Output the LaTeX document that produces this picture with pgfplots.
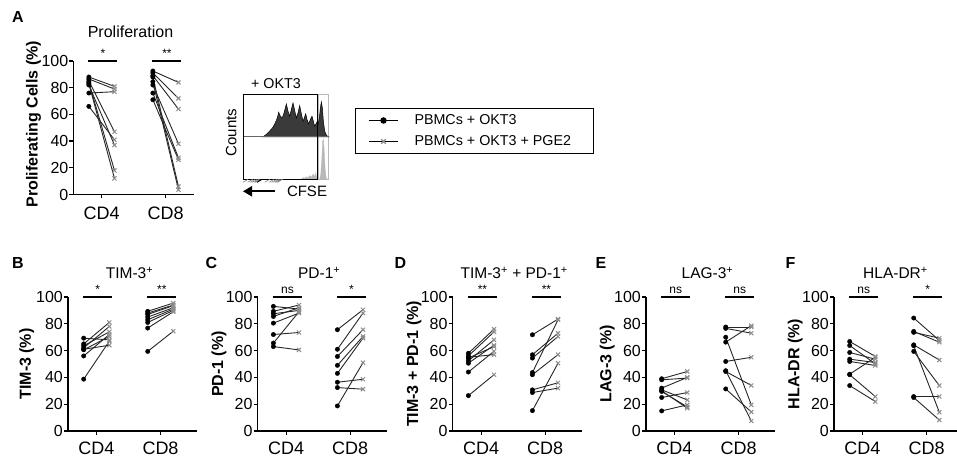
\documentclass[border=0pt]{standalone}
\usepackage{fontspec}
\setmainfont{Liberation Sans}
\usepackage{pgfplots}
\pgfplotsset{compat=1.18}
\usepackage{pgfplotstable}
\usetikzlibrary{arrows.meta}

\definecolor{xgray}{HTML}{8C8C8C}
\definecolor{histdark}{HTML}{3A3A3A}
\definecolor{histlight}{HTML}{B8B8B8}

% columns: CD4 without/with PGE2, CD8 without/with PGE2
\pgfplotstableread{
d4 c4 d8 c8
88 81 92.5 84
86.5 79 91 72
85 47 89 64
84 18 88 6
83 12 84.5 3.5
82 37 82 38
76 77 76 27.5
66 41 71 26
}\tabA
\pgfplotstableread{
d4 c4 d8 c8
69.3 68 89.3 95.5
65 81 87 93.5
63.6 74 85 92
62 78 83 91
61 64 81 90
60.6 70.5 76.8 89
56 72 88 94
38.7 67 59.4 74.5
}\tabB
\pgfplotstableread{
d4 c4 d8 c8
93 91 75.6 90.5
89.3 94 61 88
87.5 90 55.6 75.6
85.5 92 49 70.6
80.5 88 43 69.3
72 73.5 36.4 38.6
65.6 89 32.4 31.2
63 60.5 18.7 51
}\tabC
\pgfplotstableread{
d4 c4 d8 c8
58 76 71.8 83.5
56 74 56.9 73
54.4 63 54.4 70.5
52.4 68 43.6 83
50.6 64 42 57
55 57 30.7 36
44 59.5 28.7 32
26.4 42 15.2 50.6
}\tabD
\pgfplotstableread{
d4 c4 d8 c8
39 44.4 77.6 77.6
38.2 39.5 76.6 73
32 40 70 19.5
30.7 23.2 66.3 78.6
29.5 18 51.9 55
25 28.7 45 7.5
15 19.5 44.4 34
30 17 31.4 14.2
}\tabE
\pgfplotstableread{
d4 c4 d8 c8
66.8 55.6 84.3 67.6
63.8 50.1 74.3 66.3
58.6 53.6 73.6 69.3
53.6 51.1 64.3 53
51.9 48.9 63.6 14
42.4 55 59.4 33.9
42 25.7 25.7 25.7
33.9 22 25 8.2
}\tabF

% CFSE histograms (top: + OKT3, bottom: unstimulated)
\pgfplotstableread{
x y
75 1
85 1.055
95 1.134
105 1.227
112 1.332
118 1.445
122 1.578
127 1.484
133 1.445
138 1.563
145 1.773
150 1.602
155 1.484
160 1.641
165 1.797
170 1.617
175 1.445
180 1.563
185 1.734
190 1.539
195 1.367
199 1.445
203 1.539
207 1.406
212 1.305
217 1.406
222 1.484
226 1.367
230 1.25
234 1.305
237 1.352
240 1.289
244 1.445
247 1.680
250 1.820
253 1.680
256 1.367
260 1.133
264 1.055
268 1.016
272 1
}\histU
\pgfplotstableread{
x y
190 0
195 0.04
200 0.024
205 0.056
210 0.032
215 0.087
220 0.048
225 0.119
230 0.063
233 0.143
236 0.024
240 0
245 0
248 0.103
251 0.421
254 0.897
256 0.937
258 0.738
261 0.262
264 0.04
268 0
}\histL

\pgfplotsset{
  panel/.style={
    scale only axis, width=129pt, height=134pt,
    xmin=0.555, xmax=2.57, ymin=0, ymax=100,
    axis lines=left, axis line style={-, line width=1.2pt},
    xtick={1,2}, xticklabels={CD4,CD8},
    ytick={0,20,...,100},
    major tick length=4pt, tick align=outside,
    tick style={line width=1.2pt, black},
    xticklabel style={font=\fontsize{18}{20}\selectfont, yshift=-3pt},
    yticklabel style={font=\fontsize{16}{18}\selectfont, inner xsep=1pt},
    ylabel style={font=\bfseries\fontsize{16}{18}\selectfont,
      at={(axis description cs:-0.30,0.5)}, anchor=center},
    title style={font=\fontsize{15.5}{17}\selectfont,
      at={(axis description cs:0.5,1)}, anchor=base, yshift=12.5pt, xshift=-3pt},
    clip=false, anchor=south west,
    /pgf/number format/assume math mode=true,
  },
  lnk/.style={black!85, line width=0.9pt},
  dm/.style={only marks, mark=*, mark size=2.2pt, black},
  xm/.style={only marks, mark=x, mark size=2.9pt, xgray, mark options={line width=1pt}},
}

\newcommand\pairs[1]{%
  \addplot[lnk, quiver={u=0.4, v=\thisrow{c4}-\thisrow{d4}}] table[x expr=0.8, y=d4] {#1};
  \addplot[lnk, quiver={u=0.4, v=\thisrow{c8}-\thisrow{d8}}] table[x expr=1.8, y=d8] {#1};
  \addplot[xm] table[x expr=1.2, y=c4] {#1};
  \addplot[xm] table[x expr=2.2, y=c8] {#1};
  \addplot[dm] table[x expr=0.8, y=d4] {#1};
  \addplot[dm] table[x expr=1.8, y=d8] {#1};
}
% significance bar: left, right, label x, label
\newcommand\sig[4]{%
  \draw[line width=1.7pt] (axis cs:#1,100) -- (axis cs:#2,100);
  \node[font=\fontsize{12}{13}\selectfont, anchor=base, yshift=3pt] at (axis cs:#3,100) {#4};
}
\newcommand\sigs[2]{\sig{0.79}{1.24}{1.02}{#1}\sig{1.79}{2.24}{2.02}{#2}}

\begin{document}
\begin{tikzpicture}[x=1pt,y=1pt]
\path[use as bounding box] (0,0) rectangle (957,457);

% panel letters
\foreach \l/\px/\py in {A/18/440, B/18/194, C/211.5/194, D/400.5/194, E/601/194, F/790.5/194}
  \node[font=\bfseries\fontsize{16}{18}\selectfont] at (\px,\py) {\l};

% A
\begin{axis}[panel, at={(73.5pt,262.5pt)}, width=120pt, height=133.5pt,
  xmin=0.56, xmax=2.435,
  xticklabel style={yshift=-2pt},
  ylabel={Proliferating Cells (\%)},
  ylabel style={at={(axis description cs:-0.333,0.528)}},
  title={Proliferation}, title style={font=\fontsize{16}{18}\selectfont, yshift=4.8pt},
  legend style={at={(axis description cs:2.3458,0.648)}, anchor=north west,
    draw=black, line width=1pt, inner xsep=13pt, inner ysep=5pt,
    font=\fontsize{14.3}{16}\selectfont, row sep=7pt,
    nodes={inner sep=0pt, text height=11pt, text depth=3pt},
    /tikz/every odd column/.append style={column sep=16pt}},
  legend cell align=left,
  legend image code/.code={\draw[mark repeat=2, mark phase=2, #1] plot coordinates {(0pt,0pt) (14.5pt,0pt) (29pt,0pt)};},
]
\addlegendimage{black, line width=1pt, mark=*, mark size=2.7pt, mark options={black}}
\addlegendentry{PBMCs + OKT3}
\addlegendimage{black, line width=1pt, mark=x, mark size=3.2pt, mark options={xgray, line width=1.3pt}}
\addlegendentry{PBMCs + OKT3 + PGE2\hspace*{9pt}}
\pairs{\tabA}
\sigs{*}{**}
\end{axis}

% CFSE inset
\begin{axis}[at={(243pt,277.7pt)}, anchor=south west, scale only axis,
  width=85.7pt, height=85pt, xmin=15, xmax=272, ymin=0, ymax=2,
  hide axis, clip=false]
\draw[gray!55, line width=0.9pt] (axis cs:240,0) rectangle (axis cs:272,2);
\addplot[fill=histlight, draw=histlight, line width=0.4pt] table {\histL} -- cycle;
\addplot[fill=histdark, draw=black, line width=0.5pt] table {\histU} -- cycle;
\draw[black!60, line width=0.6pt] (axis cs:15,1) -- (axis cs:272,1);
\draw[black, line width=1pt] (axis cs:15,0) rectangle (axis cs:238,2);
\pgfplotsinvokeforeach{30,44,52,58,63,67,95,108,116,122,127,131,134}{
  \draw[gray, line width=0.6pt] (axis cs:#1,0) -- ++(0,-3pt);
}
\draw[black, line width=1pt] (axis cs:72,0) -- ++(0,-3pt);
\end{axis}
\node[font=\fontsize{14.3}{16}\selectfont] at (276,373) {+ OKT3};
\node[font=\fontsize{15}{17}\selectfont, rotate=90] at (231.3,324.5) {Counts};
\draw[line width=2.2pt, -{Triangle[length=9pt, width=10pt]}] (275,265.7) -- (243,265.7);
\node[font=\fontsize{15}{17}\selectfont] at (307,266) {CFSE};

% B
\begin{axis}[panel, at={(68pt,26pt)}, ylabel={TIM-3 (\%)},
  ylabel style={at={(axis description cs:-0.32,0.5)}},
  title={TIM-3\textsuperscript{+}}]
\pairs{\tabB}
\sigs{*}{**}
\end{axis}

% C
\begin{axis}[panel, at={(257.7pt,26pt)}, ylabel={PD-1 (\%)}, title={PD-1\textsuperscript{+}}]
\pairs{\tabC}
\sigs{ns}{*}
\end{axis}

% D
\begin{axis}[panel, at={(452.7pt,26pt)}, ylabel={TIM-3 + PD-1 (\%)},
  title={TIM-3\textsuperscript{+} + PD-1\textsuperscript{+}}]
\pairs{\tabD}
\sigs{**}{**}
\end{axis}

% E
\begin{axis}[panel, at={(646pt,26pt)}, ylabel={LAG-3 (\%)}, title={LAG-3\textsuperscript{+}}]
\pairs{\tabE}
\sigs{ns}{ns}
\end{axis}

% F
\begin{axis}[panel, at={(834pt,26pt)}, ylabel={HLA-DR (\%)}, title={HLA-DR\textsuperscript{+}}]
\pairs{\tabF}
\sigs{ns}{*}
\end{axis}
\end{tikzpicture}
\end{document}
